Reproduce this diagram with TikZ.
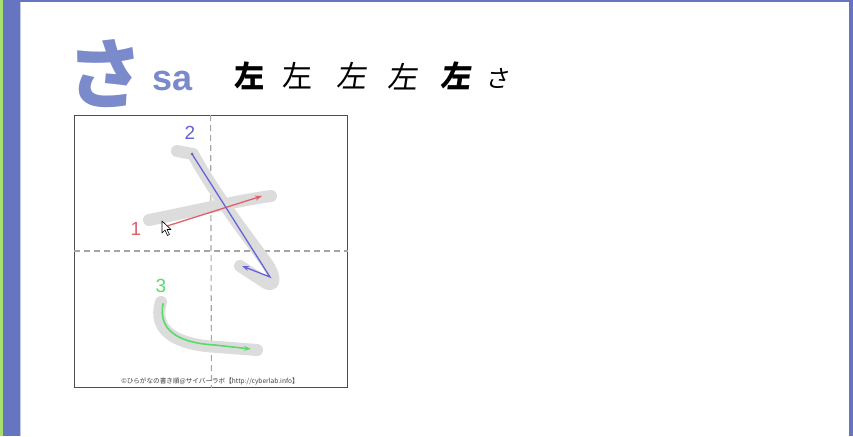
\documentclass[tikz,border=0pt]{standalone}
\usepackage{fontspec}
\setmainfont{Liberation Sans}
\newfontfamily\jp{Noto Sans CJK JP}
\newfontfamily\jpslant{Noto Sans CJK JP}[FakeSlant=0.15]
\usetikzlibrary{arrows.meta}
\definecolor{stripblue}{HTML}{6575C0}
\definecolor{stripgreen}{HTML}{A8E070}
\definecolor{kanablue}{HTML}{7A8ACB}
\definecolor{guide}{HTML}{DCDCDC}
\definecolor{redstroke}{HTML}{E0606A}
\definecolor{bluestroke}{HTML}{6464D8}
\definecolor{greenstroke}{HTML}{55DD66}
\tikzset{
  guidestroke/.style={draw=guide,line width=12pt,line cap=round,line join=round},
  strokearrow/.style={line width=1.3pt,-{Stealth[length=7pt,width=5pt]}},
  numlabel/.style={font=\fontsize{19}{19}\selectfont,inner sep=0pt},
  kanji/.style={font=\jp\fontsize{30}{30}\selectfont,inner sep=0pt},
  gridline/.style={draw=gray!70,dashed,dash pattern=on 6pt off 4pt,line width=1.1pt}
}
\begin{document}
\begin{tikzpicture}[x=1pt,y=-1pt]
\useasboundingbox (0,0) rectangle (853,436);
\fill[white] (0,0) rectangle (853,436);
% frame
\fill[stripgreen] (0,0) rectangle (3,436);
\fill[stripblue] (3,0) rectangle (20,436);
\fill[stripblue!40] (20,0) rectangle (21,436);
\fill[stripblue] (20,0) rectangle (853,2);
\fill[stripblue] (849,0) rectangle (853,436);
% title
\node[font=\jp\bfseries\fontsize{76}{76}\selectfont,text=kanablue,inner sep=0pt] (kana) at (105,74) {さ};
\node[font=\bfseries\fontsize{36}{36}\selectfont,text=kanablue,inner sep=0pt,anchor=base west] (roma) at (152,90) {sa};
\node[kanji,font=\jp\bfseries\fontsize{30}{30}\selectfont] (k1) at (249,76) {左};
\node[kanji,font=\jp\fontsize{30}{30}\selectfont] (k2) at (297,76) {左};
\node[kanji,font=\jpslant\fontsize{30}{30}\selectfont] (k3) at (351,76) {左};
\node[kanji,font=\jpslant\fontsize{30}{30}\selectfont] (k4) at (402,77) {左};
\node[kanji,font=\jpslant\bfseries\fontsize{30}{30}\selectfont] (k5) at (455,76) {左};
\node[kanji,font=\jpslant\fontsize{24}{24}\selectfont] (k6) at (497,78) {さ};
% practice box
\node[draw=black!70,line width=1.2pt,minimum width=273pt,minimum height=272pt,inner sep=0pt,anchor=north west] (box) at (74,115) {};
\draw[gridline] (box.north) ++(-0.5,0) -- (box.south -| 211.5,0);
\draw[gridline] (box.west |- 0,251) -- (box.east |- 0,251);
% guide strokes (grey)
\draw[guidestroke] (149,220) .. controls (190,212) and (240,200) .. (271,196);
\draw[guidestroke] (177,151) -- (193,154) .. controls (215,195) and (250,240) .. (266,262) .. controls (276,276) and (276,288) .. (266,283) -- (240,266);
\draw[guidestroke] (161,302) .. controls (152,332) and (178,345) .. (218,347) -- (257,350);
% coordinates
\coordinate (s1a) at (164,227);
\coordinate (s1b) at (262,196);
\coordinate (s2a) at (192,154);
\coordinate (s2b) at (270,277);
\coordinate (s2c) at (242,266);
\coordinate (s3a) at (163,304);
\coordinate (s3b) at (251,349);
% stroke arrows
\draw[strokearrow,redstroke] (s1a) -- (s1b);
\fill[bluestroke] (s2a) circle (1.5pt);
\draw[strokearrow,bluestroke] (s2a) -- (s2b) -- (s2c);
\fill[greenstroke] (s3a) circle (1.2pt);
\draw[strokearrow,greenstroke,line width=1.6pt] (s3a) .. controls (158,330) and (178,343) .. (215,345) -- (s3b);
% cursor
\draw[fill=white,line width=0.6pt,line join=round] (162,221) -- (162,233) -- (165,230) -- (167.5,235.5) -- (169.5,234.5) -- (167,229.5) -- (171,229.5) -- cycle;
% labels
\node[numlabel,text=redstroke] (n1) at (136,229) {1};
\node[numlabel,text=bluestroke] (n2) at (190,133) {2};
\node[numlabel,text=greenstroke] (n3) at (161,286) {3};
\node[font=\jp\fontsize{6.6}{6.6}\selectfont,text=black!75,inner sep=0pt] (copy) at (210,381) {©ひらがなの書き順@サイバーラボ【http://cyberlab.info】};
\end{tikzpicture}
\end{document}
